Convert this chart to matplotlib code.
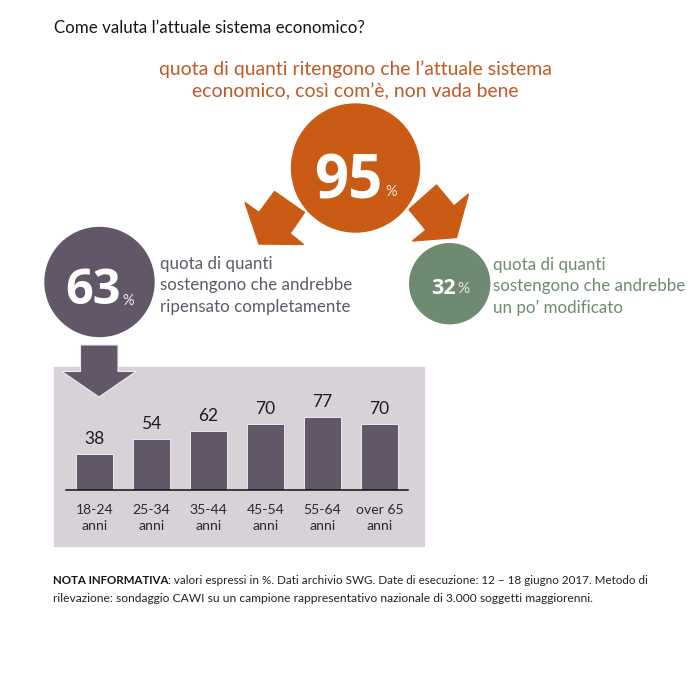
import matplotlib
matplotlib.use('Agg')
import matplotlib.pyplot as plt
from matplotlib.patches import Circle, Polygon, Rectangle

plt.rcParams['font.family'] = ['Lato', 'DejaVu Sans']

age_groups = ['18-24\nanni', '25-34\nanni', '35-44\nanni', '45-54\nanni', '55-64\nanni', 'over 65\nanni']
age_values = [38, 54, 62, 70, 77, 70]

total_bad = 95
rethink = 63
modify = 32

ORANGE = '#C95B14'
ORANGE_TEXT = '#BF5A26'
PURPLE = '#625768'
GREEN = '#6E8A70'
PANEL = '#D6D2D8'
W = 700.0

fig = plt.figure(figsize=(7, 7), dpi=100, facecolor='white')

# page axes in pixels, y going down like the picture
page = fig.add_axes([0, 0, 1, 1])
page.set_xlim(0, W)
page.set_ylim(W, 0)
page.axis('off')


def put_number(x, y, value, unit_x, size, unit_size, unit_y):
    page.text(x, y, str(value), color='white', fontsize=size, fontweight='bold', family='Open Sans', ha='center', va='center')
    page.text(unit_x, unit_y, '%', color='#F3E9E2', fontsize=unit_size, ha='center', va='center')


page.text(54, 28, 'Come valuta l’attuale sistema economico?', fontsize=12.2, color='#151515', va='center')
page.text(355, 69, 'quota di quanti ritengono che l’attuale sistema', fontsize=13.95, color=ORANGE_TEXT, ha='center', va='center')
page.text(355, 92, 'economico, così com’è, non vada bene', fontsize=13.95, color=ORANGE_TEXT, ha='center', va='center')

# orange circle and its two arrows
page.add_patch(Circle((355.5, 168), 64, color=ORANGE))
page.add_patch(Polygon([(245, 202.5), (259, 212.5), (274.5, 191.5), (304.5, 212.5), (290, 233.5), (303.5, 244.5), (259, 244)], color=ORANGE))
page.add_patch(Polygon([(436.5, 185), (454, 206), (468.5, 194), (456.5, 237.5), (412.5, 241), (426, 230), (409, 209.5)], color=ORANGE))
put_number(348, 183, total_bad, 391, 43, 10.5, 192)

page.add_patch(Circle((99.5, 282), 54.5, color=PURPLE))
put_number(93, 291, rethink, 128, 35, 10.5, 301)

page.add_patch(Circle((449.7, 283.7), 40, color=GREEN))
put_number(443, 288, modify, 463, 15.5, 11, 289)

for y, line in zip([264, 285, 307], ['quota di quanti', 'sostengono che andrebbe', 'ripensato completamente']):
    page.text(160, y, line, fontsize=12.2, color=PURPLE, va='center')
for y, line in zip([265, 286, 308], ['quota di quanti', 'sostengono che andrebbe', 'un po’ modificato']):
    page.text(493, y, line, fontsize=12.2, color=GREEN, va='center')

# grey panel behind the bars, arrow sits on top of it
page.add_patch(Rectangle((54, 367), 370, 179, color=PANEL, zorder=1))
page.add_patch(Polygon([(80.5, 345), (118, 345), (118, 371.5), (136, 371.5), (99, 397), (62, 371.5), (80.5, 371.5)],
                       facecolor=PURPLE, edgecolor='#EEEAF0', linewidth=0.8, zorder=2))

# bar chart
ax = fig.add_axes([66 / W, 1 - 490 / W, 342 / W, 123 / W])
ax.patch.set_alpha(0)
bars = ax.bar(range(len(age_values)), age_values, width=0.65, color=PURPLE, edgecolor='#ECE9EE', linewidth=0.7)
ax.bar_label(bars, padding=5, fontsize=12.5, color='#1c1c1c')
ax.set_xlim(-0.5, 5.5)
ax.set_ylim(0, 129.5)
ax.set_yticks([])
ax.set_xticks(range(len(age_groups)))
ax.set_xticklabels(age_groups, fontsize=10.1, color='#2a2a2a', linespacing=1.45)
ax.tick_params(axis='x', length=0, pad=10)
for side in ['top', 'left', 'right']:
    ax.spines[side].set_visible(False)
ax.spines['bottom'].set_linewidth(1.1)
ax.spines['bottom'].set_color('#111111')

# note, bold start then regular
note_bold = page.text(53, 580, 'NOTA INFORMATIVA', fontsize=8.3, fontweight='bold', color='#151515', va='center')
fig.canvas.draw()
end_px = note_bold.get_window_extent().x1
page.text(end_px, 580, ': valori espressi in %. Dati archivio SWG. Date di esecuzione: 12 – 18 giugno 2017. Metodo di',
          fontsize=8.4, color='#222222', va='center')
page.text(53, 598, 'rilevazione: sondaggio CAWI su un campione rappresentativo nazionale di 3.000 soggetti maggiorenni.',
          fontsize=8.65, color='#222222', va='center')

fig.savefig('out.png', dpi=100)
